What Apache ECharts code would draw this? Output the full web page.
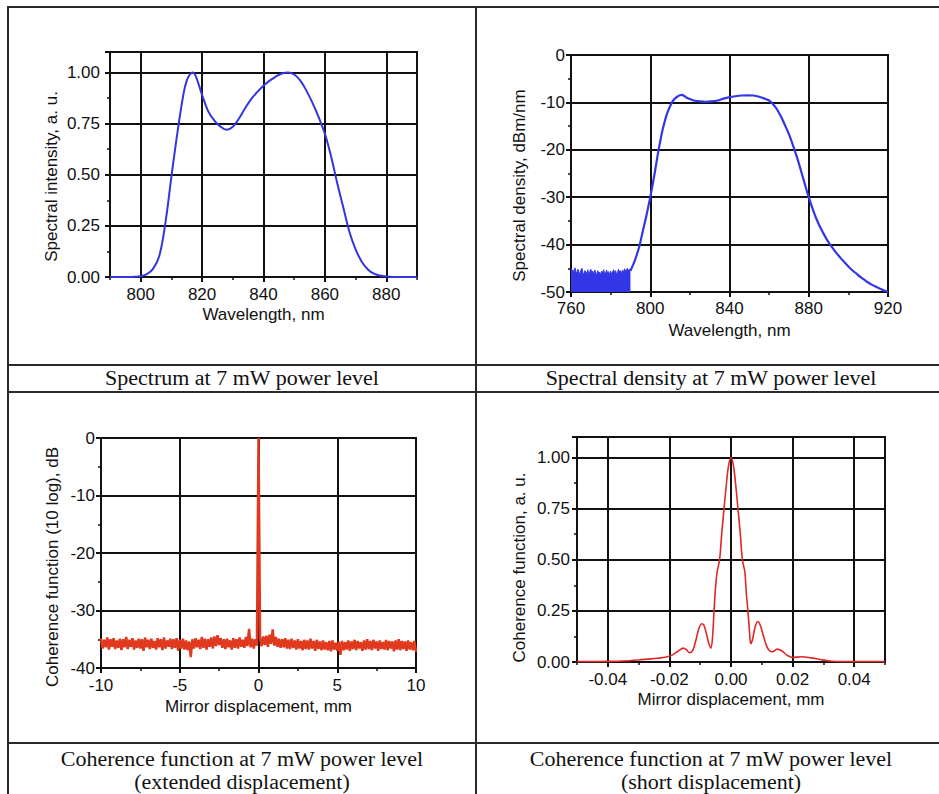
<!DOCTYPE html>
<html>
<head>
<meta charset="utf-8">
<script src="https://cdn.jsdelivr.net/npm/echarts@6/dist/echarts.min.js"></script>
<style>
html, body { margin: 0; padding: 0; background: #fff; }
.page { position: relative; width: 939px; height: 794px; overflow: hidden; }
.rule { position: absolute; background: #2a2a2a; }
.cap {
  position: absolute; width: 460px; text-align: center;
  font-family: "Liberation Serif", "Times New Roman", serif;
  font-size: 20px; line-height: 23px; color: #111;
  transform: scaleX(1.1); transform-origin: center;
}
#chart { position: absolute; left: 0; top: 0; width: 939px; height: 794px; }
</style>
</head>
<body>
<div class="page">
  <div class="rule" style="left:7px;top:6px;width:932px;height:2px"></div>
  <div class="rule" style="left:7px;top:6px;width:2px;height:788px"></div>
  <div class="rule" style="left:475px;top:6px;width:2px;height:788px"></div>
  <div class="rule" style="left:7px;top:364px;width:932px;height:2px"></div>
  <div class="rule" style="left:7px;top:391px;width:932px;height:2px"></div>
  <div class="rule" style="left:7px;top:742px;width:932px;height:2px"></div>

  <div class="cap" style="left:12px;top:367px">Spectrum at 7 mW power level</div>
  <div class="cap" style="left:481px;top:367px">Spectral density at 7 mW power level</div>
  <div class="cap" style="left:12px;top:748px">Coherence function at 7 mW power level<br>(extended displacement)</div>
  <div class="cap" style="left:481px;top:748px">Coherence function at 7 mW power level<br>(short displacement)</div>

  <div id="chart"></div>
</div>
<script>
// spectrum, a.u.
const spectrumWl  = [790, 792, 794, 796, 798, 800, 802, 804, 806, 808, 810, 812, 814, 815, 816, 817, 818, 820, 822, 824, 826, 828, 830, 832, 834, 836, 838, 840, 842, 844, 846, 848, 850, 852, 854, 856, 858, 860, 862, 864, 866, 868, 870, 872, 874, 876, 878, 880, 882, 886, 890];
const spectrumInt = [0, 0, 0, 0, 0.001, 0.004, 0.014, 0.04, 0.1, 0.26, 0.49, 0.71, 0.9, 0.96, 0.99, 1.0, 0.98, 0.89, 0.81, 0.765, 0.735, 0.72, 0.735, 0.775, 0.825, 0.87, 0.905, 0.935, 0.96, 0.98, 0.995, 1.0, 0.99, 0.96, 0.91, 0.85, 0.78, 0.70, 0.59, 0.46, 0.34, 0.22, 0.135, 0.075, 0.037, 0.016, 0.007, 0.002, 0, 0, 0];

// spectral density, dBm/nm : noise floor 760..790 nm (0.5 nm step), then the main curve
const noiseStart = 760, noiseStep = 0.5;
const noiseTop = [-45.1, -45.9, -45.3, -46.2, -44.9, -45.7, -46.0, -45.2, -45.8, -46.3,
  -45.4, -45.0, -45.9, -46.4, -45.5, -45.8, -46.1, -45.3, -46.5, -45.7,
  -45.2, -46.0, -45.6, -46.3, -45.4, -45.9, -46.6, -45.5, -46.1, -45.8,
  -46.4, -45.6, -46.0, -45.3, -46.2, -45.9, -45.4, -46.1, -45.7, -46.5,
  -45.6, -46.2, -45.8, -45.3, -46.0, -45.5, -46.3, -45.9, -45.2, -45.8,
  -45.5, -46.1, -45.4, -45.9, -45.1, -45.7, -45.3, -45.0, -45.6, -45.2, -45.4];
const densityWl = [790, 791, 792, 793, 794, 795, 796, 797, 798, 799, 800, 801, 802, 803, 804, 805, 806, 807, 808, 809, 810, 811, 812, 813, 814, 815, 816, 817, 818, 820, 822, 825, 828, 831, 834, 837, 840, 843, 846, 849, 852, 855, 857, 860, 862, 864, 866, 868, 870, 872, 874, 876, 878, 880, 882, 884, 886, 888, 890, 892, 894, 896, 898, 900, 902, 904, 906, 908, 910, 912, 914, 916, 918, 920];
const densityDb = [-45.5, -44.6, -43.6, -42.4, -41.1, -39.5, -37.6, -35.8, -34, -32, -30, -27.8, -25.5, -23, -20.5, -18.3, -16.2, -14.5, -13, -11.8, -10.8, -10, -9.4, -9, -8.7, -8.5, -8.4, -8.6, -8.9, -9.3, -9.6, -9.8, -9.9, -9.8, -9.6, -9.2, -8.9, -8.7, -8.55, -8.5, -8.55, -8.8, -9.1, -9.6, -10.4, -11.5, -13, -14.8, -16.7, -19, -21.5, -24.3, -27.2, -30, -32.5, -34.7, -36.5, -38.1, -39.5, -40.7, -41.8, -42.8, -43.7, -44.6, -45.4, -46.1, -46.8, -47.4, -48, -48.5, -48.9, -49.3, -49.7, -50];

// coherence function, dB, -10..10 mm in 0.1 mm steps
const extStart = -10, extStep = 0.1;
const extDb = [
  -34.9, -36.6, -35.1, -36.4, -34.7, -36.8, -35.0, -36.3, -34.8, -36.7,
  -35.2, -36.5, -34.9, -36.9, -35.0, -36.4, -34.6, -36.7, -35.1, -36.3,
  -34.8, -36.8, -35.2, -36.5, -34.9, -36.6, -35.0, -37.0, -34.7, -36.4,
  -35.1, -36.7, -34.9, -36.5, -35.3, -36.8, -34.8, -36.4, -35.0, -36.9,
  -34.7, -36.6, -35.2, -36.3, -34.9, -36.7, -35.0, -36.5, -34.8, -37.0,
  -35.1, -36.6, -34.9, -36.8, -35.2, -36.9, -35.4, -38.1, -35.0, -36.6,
  -34.8, -36.4, -35.1, -36.7, -34.6, -36.5, -34.9, -36.8, -35.0, -36.3,
  -34.7, -36.6, -34.5, -36.2, -34.3, -36.0, -34.8, -36.5, -35.0, -36.7,
  -34.9, -36.4, -35.2, -36.8, -34.8, -36.5, -35.0, -36.6, -34.7, -36.3,
  -35.1, -36.5, -34.6, -36.2, -33.2, -36.4, -34.9, -36.6, -35.0, -36.1,
  0,
  -34.8, -36.2, -34.5, -36.0, -34.4, -36.3, -34.2, -35.8, -33.3, -36.1,
  -34.6, -36.3, -34.9, -36.5, -35.0, -36.4, -34.8, -36.6, -35.1, -36.7,
  -34.9, -36.5, -35.2, -36.8, -35.0, -36.6, -35.3, -36.9, -35.1, -36.7,
  -35.2, -36.8, -34.9, -36.6, -35.3, -37.0, -35.1, -36.7, -35.4, -36.9,
  -35.2, -36.8, -35.5, -36.9, -35.3, -37.1, -35.2, -36.8, -35.6, -37.0,
  -35.4, -37.7, -35.3, -36.9, -35.5, -36.8, -35.2, -37.0, -35.4, -36.7,
  -35.1, -36.9, -35.3, -36.6, -35.5, -37.0, -35.2, -36.8, -35.0, -36.7,
  -35.3, -36.9, -35.1, -36.6, -35.4, -37.0, -35.2, -36.7, -35.5, -36.8,
  -35.1, -36.9, -35.3, -36.6, -35.4, -37.1, -35.2, -36.8, -35.0, -36.9,
  -35.3, -36.7, -35.4, -37.0, -35.2, -36.8, -35.5, -36.9, -35.3, -37.2];

// coherence function, a.u., short displacement
const shortMm = [-0.05, -0.045, -0.04, -0.035, -0.03, -0.027, -0.024, -0.021, -0.019, -0.017, -0.0155, -0.0145, -0.0135, -0.0125, -0.0115, -0.0105, -0.0095, -0.0088, -0.008, -0.0072, -0.0065, -0.006, -0.0055, -0.005, -0.0045, -0.0037, -0.003, -0.0022, -0.0015, -0.0008, 0, 0.0008, 0.0015, 0.0022, 0.003, 0.0037, 0.0045, 0.005, 0.0055, 0.006, 0.0064, 0.007, 0.0078, 0.0087, 0.0095, 0.0105, 0.0115, 0.0125, 0.0135, 0.015, 0.0165, 0.018, 0.02, 0.023, 0.026, 0.029, 0.032, 0.036, 0.04, 0.045, 0.05];
const shortAu = [0.002, 0.002, 0.003, 0.005, 0.01, 0.014, 0.018, 0.024, 0.035, 0.055, 0.068, 0.06, 0.045, 0.055, 0.1, 0.16, 0.187, 0.18, 0.14, 0.09, 0.068, 0.12, 0.25, 0.37, 0.44, 0.5, 0.63, 0.76, 0.87, 0.96, 1.0, 0.96, 0.87, 0.76, 0.63, 0.5, 0.44, 0.33, 0.25, 0.15, 0.09, 0.11, 0.17, 0.198, 0.18, 0.13, 0.08, 0.055, 0.05, 0.063, 0.055, 0.035, 0.022, 0.026, 0.02, 0.012, 0.005, 0.002, 0.002, 0.002, 0.002];

const ink = '#111';
const sans = '"Liberation Sans", Arial, sans-serif';

function pairs(xs, ys) { return xs.map((x, i) => [x, ys[i]]); }
function stepPairs(start, step, ys) { return ys.map((y, i) => [+(start + i * step).toFixed(3), y]); }

function axis(o) {
  return {
    type: 'value', gridIndex: o.grid, position: o.pos,
    min: o.min, max: o.max, interval: o.interval,
    name: o.name, nameLocation: 'middle', nameGap: o.gap, nameRotate: o.rot,
    nameTextStyle: { fontSize: 17, color: ink, fontFamily: sans, padding: o.pad || 0 },
    axisLine: { show: true, onZero: false, lineStyle: { color: ink, width: 2 } },
    axisTick: { show: true, length: 5, lineStyle: { color: ink, width: 2 }, customValues: o.ticks },
    minorTick: { show: o.minor !== false, splitNumber: 2, length: 3, lineStyle: { color: ink, width: 1.5 } },
    splitLine: { show: true, lineStyle: { color: ink, width: 2 } },
    axisLabel: { fontSize: 17, color: ink, fontFamily: sans, margin: o.margin, formatter: o.fmt, customValues: o.ticks }
  };
}
// extra tick-only axis for minor marks where the major ticks are not aligned with min
function minorAxis(grid, min, max, interval) {
  return {
    type: 'value', gridIndex: grid, position: 'bottom', min: min, max: max, interval: interval,
    axisLine: { show: false }, axisLabel: { show: false }, splitLine: { show: false },
    axisTick: { show: true, length: 3, lineStyle: { color: ink, width: 1.5 } }
  };
}
const fix2 = v => (v > 1.05 ? '' : v.toFixed(2));

const chart = echarts.init(document.getElementById('chart'), null, { renderer: 'svg' });
chart.setOption({
  animation: false,
  backgroundColor: 'transparent',
  grid: [
    { left: 110, top: 52, width: 307, height: 225 },
    { left: 571, top: 55, width: 317, height: 237 },
    { left: 101, top: 438, width: 315, height: 230 },
    { left: 577, top: 437, width: 308, height: 225 }
  ].map(g => Object.assign(g, { show: true, borderColor: ink, borderWidth: 2 })),
  xAxis: [
    axis({ grid: 0, pos: 'bottom', min: 790, max: 890, interval: 10, ticks: [800, 820, 840, 860, 880], minor: false,
      name: 'Wavelength, nm', gap: 29, margin: 9 }),
    axis({ grid: 1, pos: 'bottom', min: 760, max: 920, interval: 40, name: 'Wavelength, nm', gap: 30, margin: 8 }),
    axis({ grid: 2, pos: 'bottom', min: -10, max: 10, interval: 5, name: 'Mirror displacement, mm', gap: 30, margin: 9 }),
    axis({ grid: 3, pos: 'bottom', min: -0.05, max: 0.05, interval: 0.01, ticks: [-0.04, -0.02, 0, 0.02, 0.04], minor: false,
      fmt: v => v.toFixed(2), name: 'Mirror displacement, mm', gap: 29, margin: 9 }),
    minorAxis(0, 790, 890, 10),
    minorAxis(3, -0.05, 0.05, 0.01)
  ],
  yAxis: [
    axis({ grid: 0, min: 0, max: 1.1, interval: 0.25, fmt: fix2, name: 'Spectral intensity, a. u.', rot: 90, gap: 50, margin: 10, pad: [0, 24, 0, 0] }),
    axis({ grid: 1, min: -50, max: 0, interval: 10, name: 'Spectral density, dBm/nm', rot: 90, gap: 43, margin: 6, pad: [0, 24, 0, 0] }),
    axis({ grid: 2, min: -40, max: 0, interval: 10, name: 'Coherence function (10 log), dB', rot: 90, gap: 40, margin: 6, pad: [0, 28, 0, 0] }),
    axis({ grid: 3, min: 0, max: 1.1, interval: 0.25, fmt: fix2, name: 'Coherence function, a. u.', rot: 90, gap: 49, margin: 7, pad: [0, 36, 0, 0] })
  ],
  series: [
    { type: 'line', xAxisIndex: 0, yAxisIndex: 0, data: pairs(spectrumWl, spectrumInt), smooth: 0.4, showSymbol: false,
      lineStyle: { color: '#3236dc', width: 2 } },
    { type: 'line', xAxisIndex: 1, yAxisIndex: 1, data: stepPairs(noiseStart, noiseStep, noiseTop), showSymbol: false,
      lineStyle: { color: '#3236e6', width: 1 }, areaStyle: { color: '#3236e6', opacity: 1, origin: 'start' } },
    { type: 'line', xAxisIndex: 1, yAxisIndex: 1, data: pairs(densityWl, densityDb), smooth: 0.3, showSymbol: false,
      lineStyle: { color: '#3236e6', width: 2.2 } },
    { type: 'line', xAxisIndex: 2, yAxisIndex: 2, data: stepPairs(extStart, extStep, extDb), showSymbol: false,
      lineStyle: { color: '#e0391d', width: 2.5 } },
    { type: 'line', xAxisIndex: 3, yAxisIndex: 3, data: pairs(shortMm, shortAu), smooth: 0.3, showSymbol: false,
      lineStyle: { color: '#e02828', width: 1.6 } }
  ]
});
</script>
</body>
</html>
